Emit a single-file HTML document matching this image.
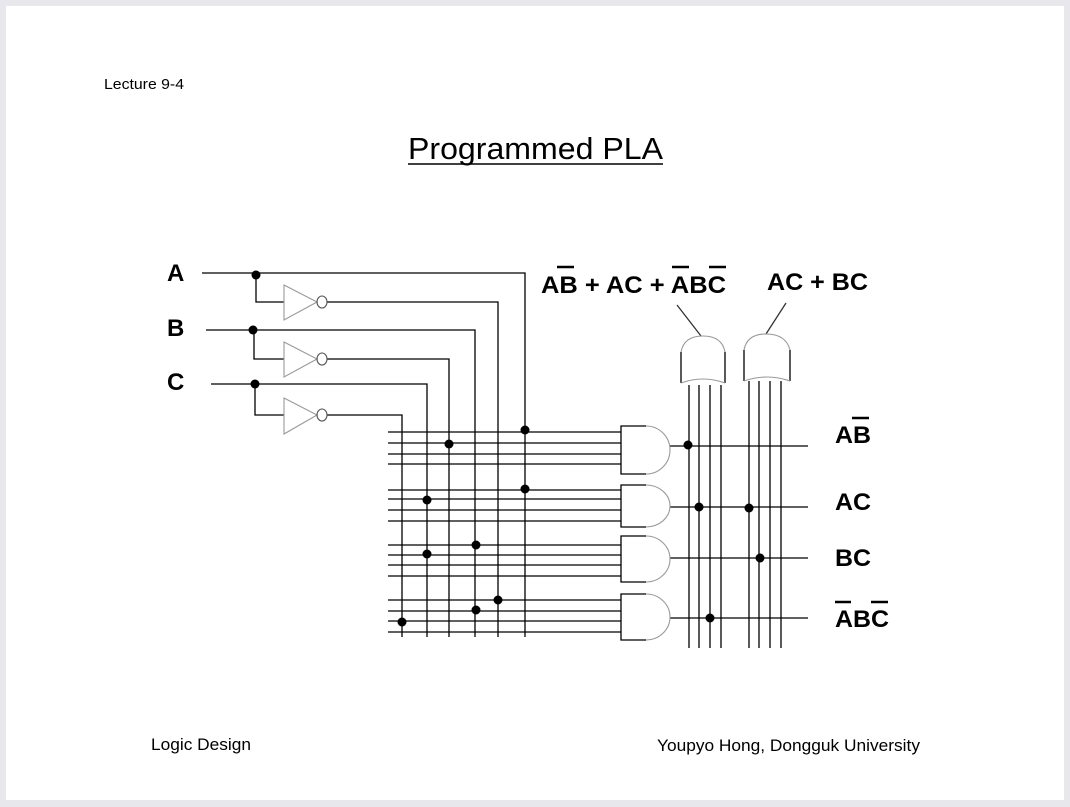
<!DOCTYPE html>
<html><head><style>
html,body{margin:0;padding:0;background:#e8e8ec;}
svg{display:block}
text{font-family:"Liberation Sans",Arial,sans-serif;}
.b{font-weight:bold;font-size:24px;}
</style></head><body>
<svg width="1070" height="807" viewBox="0 0 1070 807" xmlns="http://www.w3.org/2000/svg">
<rect x="6" y="6" width="1058" height="794" fill="#fff"/>
<text x="104" y="89" font-size="15" textLength="80" lengthAdjust="spacingAndGlyphs">Lecture 9-4</text>
<text x="408" y="159" font-size="31" textLength="255" lengthAdjust="spacingAndGlyphs">Programmed PLA</text>
<line x1="408" y1="164" x2="663" y2="164" stroke="#000" stroke-width="1.5"/>
<text x="151" y="750" font-size="17" textLength="100" lengthAdjust="spacingAndGlyphs">Logic Design</text>
<text x="657" y="751" font-size="17" textLength="263" lengthAdjust="spacingAndGlyphs">Youpyo Hong, Dongguk University</text>

<text class="b" x="167" y="281">A</text>
<text class="b" x="167" y="336">B</text>
<text class="b" x="167" y="390">C</text>
<text class="b" x="541" y="293" textLength="185" lengthAdjust="spacingAndGlyphs">AB + AC + ABC</text>
<text class="b" x="767" y="290" textLength="101" lengthAdjust="spacingAndGlyphs">AC + BC</text>
<text class="b" x="835" y="443" textLength="36" lengthAdjust="spacingAndGlyphs">AB</text>
<text class="b" x="835" y="510" textLength="36" lengthAdjust="spacingAndGlyphs">AC</text>
<text class="b" x="835" y="566" textLength="36" lengthAdjust="spacingAndGlyphs">BC</text>
<text class="b" x="835" y="627" textLength="54" lengthAdjust="spacingAndGlyphs">ABC</text>
<g stroke="#000" stroke-width="2.5">
<line x1="557" y1="267" x2="574" y2="267"/>
<line x1="672" y1="267" x2="689" y2="267"/>
<line x1="709" y1="267" x2="726" y2="267"/>
<line x1="852" y1="418" x2="869" y2="418"/>
<line x1="835" y1="602" x2="851" y2="602"/>
<line x1="871" y1="602" x2="888" y2="602"/>
</g>

<g stroke="#000" stroke-width="1.3" fill="none">
<polyline points="202,273 525,273 525,637"/>
<polyline points="256,273 256,302 284,302"/>
<polyline points="327,302 498,302 498,637"/>
<polyline points="206,330 475,330 475,637"/>
<polyline points="254,330 254,359 284,359"/>
<polyline points="327,359 449,359 449,637"/>
<polyline points="211,384 427,384 427,637"/>
<polyline points="255,384 255,415 284,415"/>
<polyline points="327,415 402,415 402,637"/>
<path d="M388 432H621M388 443H621M388 454H621M388 464H621
M388 490H621M388 499H621M388 510H621M388 521H621
M388 545H621M388 555H621M388 565H621M388 576H621
M388 600H621M388 611H621M388 621H621M388 632H621"/>
<path d="M670 446H808M670 507H808M670 558H808M670 618H808"/>
<path d="M689 385V648M699 385V648M710 385V648M721 385V648M749 381V648M759 381V648M770 381V648M781 381V648"/>
<path d="M646 426H621V474H646"/>
<path d="M646 485H621V527H646"/>
<path d="M646 536H621V582H646"/>
<path d="M646 594H621V640H646"/>
<line x1="677" y1="305" x2="701" y2="336" stroke="#333"/>
<line x1="786" y1="303" x2="766" y2="334" stroke="#333"/>
<path d="M681 352V383M725 352V383M744 350V381M790 350V381"/>
</g>
<g stroke="#999" stroke-width="1.1" fill="none">
<path d="M284 285L317 302L284 320Z"/>
<path d="M284 342L317 359L284 377Z"/>
<path d="M284 398L317 415L284 434Z"/>
<ellipse cx="322" cy="302" rx="5" ry="6" stroke="#555"/>
<ellipse cx="322" cy="359" rx="5" ry="6" stroke="#555"/>
<ellipse cx="322" cy="415" rx="5" ry="6" stroke="#555"/>
<path d="M646 426A24 24 0 0 1 646 474"/>
<path d="M646 485A24 21 0 0 1 646 527"/>
<path d="M646 536A24 23 0 0 1 646 582"/>
<path d="M646 594A24 23 0 0 1 646 640"/>
<path d="M681 352Q684 336 703 336Q722 336 725 352"/>
<path d="M681 383Q703 375 725 383"/>
<path d="M744 350Q747 334 766 334Q786 334 790 350"/>
<path d="M744 381Q767 373 790 381"/>
</g>
<g fill="#000">
<circle cx="256" cy="275" r="4.5"/><circle cx="253" cy="330" r="4.5"/><circle cx="255" cy="384" r="4.5"/>
<circle cx="525" cy="430" r="4.5"/><circle cx="449" cy="444" r="4.5"/><circle cx="525" cy="489" r="4.5"/>
<circle cx="427" cy="500" r="4.5"/><circle cx="476" cy="545" r="4.5"/><circle cx="427" cy="554" r="4.5"/>
<circle cx="498" cy="600" r="4.5"/><circle cx="476" cy="610" r="4.5"/><circle cx="402" cy="622" r="4.5"/>
<circle cx="688" cy="445" r="4.5"/><circle cx="699" cy="507" r="4.5"/><circle cx="710" cy="618" r="4.5"/>
<circle cx="749" cy="508" r="4.5"/><circle cx="760" cy="558" r="4.5"/>
</g>
</svg>
</body></html>
